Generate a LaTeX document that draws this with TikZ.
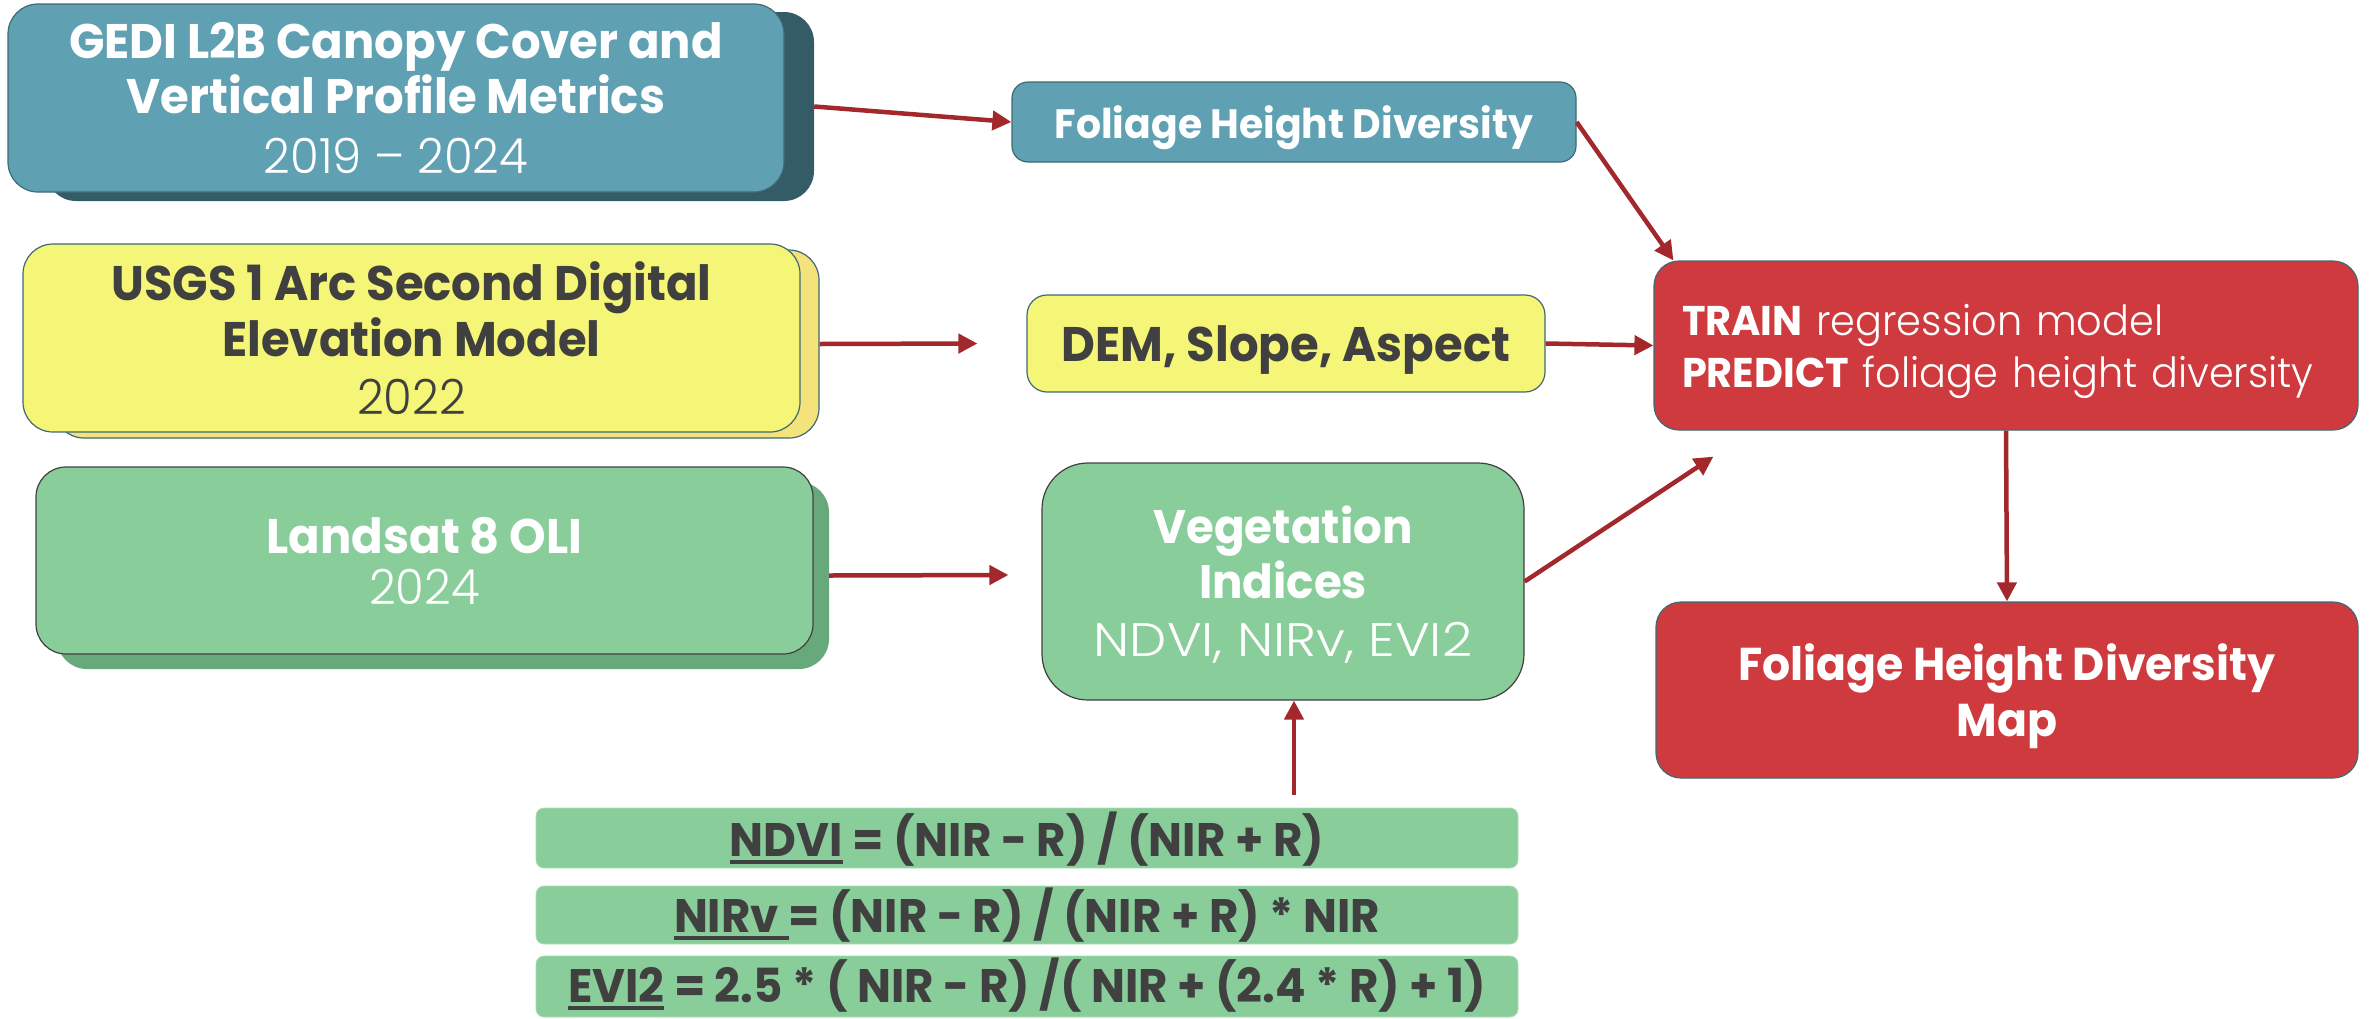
\documentclass[tikz,border=0pt]{standalone}
\usepackage{fontspec}
\setmainfont{Poppins}[FakeStretch=0.96]
\IfFontExistsTF{Poppins Light}{\newfontfamily\ltf{Poppins Light}[FakeStretch=0.96]\newfontfamily\ltw{Poppins Light}[FakeStretch=1.12]}{\newfontfamily\ltf{Poppins}[FakeStretch=0.96]\newfontfamily\ltw{Poppins}[FakeStretch=1.12]}
\usetikzlibrary{arrows.meta}
\definecolor{blueF}{HTML}{5FA1B3}
\definecolor{blueS}{HTML}{345C67}
\definecolor{yelF}{HTML}{F5F577}
\definecolor{yelS}{HTML}{F4E27A}
\definecolor{grnF}{HTML}{88CD9A}
\definecolor{grnS}{HTML}{68A97B}
\definecolor{redF}{HTML}{CE3A3E}
\definecolor{arrC}{HTML}{A2282C}
\definecolor{txtC}{HTML}{404040}
\definecolor{bordC}{HTML}{3F6A75}
\newcommand\nd[1]{\raisebox{0pt}[\height][0pt]{#1}}
\newcommand\lt[1]{{\ltf\mdseries #1}}
\newcommand\myul[1]{\setbox0\hbox{#1}\rlap{\rule[-8pt]{\wd0}{4pt}}\box0\relax}
\begin{document}
\begin{tikzpicture}[x=1pt,y=-1pt,
  shad/.style={rectangle, inner sep=0pt, rounded corners=30pt},
  boxs/.style={rectangle, draw=bordC, line width=1.2pt, inner sep=0pt, align=center},
  bar/.style={rectangle, fill=grnF, draw=grnF!70!white, line width=0.8pt, rounded corners=8pt,
    minimum width=982pt, inner sep=0pt, text depth=0pt, text=txtC, font=\bfseries\fontsize{47}{55}\selectfont},
  arr/.style={draw=arrC, line width=4.5pt, -{Triangle[length=19pt,width=19pt]}}]
\useasboundingbox (0,0) rectangle (2369,1018);
% shadows
\node[shad, fill=blueS, minimum width=768pt, minimum height=189pt] (gedisd) at (430,106.5) {};
\node[shad, fill=yelS, draw=bordC, line width=1.2pt, minimum width=765pt, minimum height=188pt] (usgssd) at (436.5,344) {};
\node[shad, fill=grnS, minimum width=772pt, minimum height=187pt] (landsd) at (443,575.5) {};
% source boxes
\node[boxs, fill=blueF, rounded corners=30pt, minimum width=776pt, minimum height=188pt, text=white,
  font=\bfseries\fontsize{48.5}{55}\selectfont] (gedi) at (396,98)
  {GEDI L2B Canopy Cover and\\Vertical Profile Metrics\\[5pt]\lt{2019 – 2024}};
\node[boxs, fill=yelF, rounded corners=30pt, minimum width=777pt, minimum height=188pt, text=txtC,
  font=\bfseries\fontsize{48.5}{56}\selectfont] (usgs) at (411.5,338)
  {USGS 1 Arc Second Digital\\Elevation Model\\[2pt]\lt{2022}};
\node[boxs, draw=txtC, fill=grnF, rounded corners=30pt, minimum width=777pt, minimum height=187pt, text=white,
  font=\bfseries\fontsize{48.5}{51}\selectfont] (land) at (424.5,560.5)
  {Landsat 8 OLI\\\lt{2024}};
% middle boxes
\node[boxs, fill=blueF, rounded corners=16pt, minimum width=564pt, minimum height=80pt, text=white,
  font=\bfseries\fontsize{41}{50}\selectfont] (fhd) at (1294,122) {\nd{Foliage Height Diversity}};
\node[boxs, fill=yelF, rounded corners=20pt, minimum width=518pt, minimum height=97pt, text=txtC,
  font=\bfseries\fontsize{48.5}{50}\selectfont] (dem) at (1286,343.5) {\nd{DEM, Slope, Aspect}};
\node[boxs, draw=txtC, fill=grnF, rounded corners=46pt, minimum width=482pt, minimum height=237pt, text=white,
  font=\bfseries\fontsize{47}{55}\selectfont] (veg) at (1283,581.5)
  {Vegetation\\Indices\\[3pt]\nd{{\ltw\mdseries\fontsize{47}{55}\selectfont NDVI, NIRv, EVI2}}};
% right boxes
\node[boxs, fill=redF, rounded corners=25pt, minimum width=704pt, minimum height=169pt, text=white,
  text width=648pt, align=left, inner xsep=28pt, font=\bfseries\fontsize{41.5}{52}\selectfont] (train) at (2006,345.5)
  {TRAIN \lt{regression model}\\\nd{PREDICT \lt{foliage height diversity}}};
\node[boxs, fill=redF, rounded corners=25pt, minimum width=702pt, minimum height=176pt, text=white,
  font=\bfseries\fontsize{46}{56}\selectfont] (map) at (2007,690)
  {Foliage Height Diversity\\\nd{Map}};
% formula bars
\node[bar, minimum height=60pt, text height=36pt] (ndvi) at (1027,838) {\myul{NDVI} = (NIR - R) / (NIR + R)};
\node[bar, minimum height=58pt, text height=34pt] (nirv) at (1027,915) {\myul{NIRv\ }= (NIR - R) / (NIR + R) * NIR};
\node[bar, minimum height=61pt, text height=31pt] (evi) at (1027,986.5) {\myul{EVI2} = 2.5 * ( NIR - R) /( NIR + (2.4 * R) + 1)};
% connectors
\draw[arr] (gedisd.east) -- (fhd.west);
\draw[arr] (usgssd.east) -- ([xshift=-49pt]dem.west);
\draw[arr] (landsd.east) -- ([xshift=-33pt,yshift=6.5pt]veg.west);
\draw[arr] (fhd.east) -- ([xshift=20pt]train.north west);
\draw[arr] (dem.east) -- (train.west);
\draw[arr] (veg.east) -- ([xshift=60pt,yshift=-26pt]train.south west);
\draw[arr] (train.south) -- (map.north);
\draw[arr] ([xshift=267pt,yshift=13pt]ndvi.north) -- ([xshift=11pt]veg.south);
\end{tikzpicture}
\end{document}
